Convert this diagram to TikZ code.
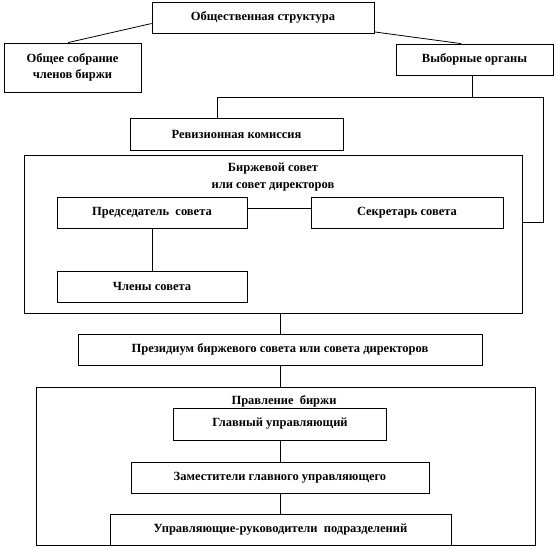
\documentclass[tikz,border=0pt]{standalone}
\usepackage{fontspec}
\setmainfont{Liberation Serif}
\begin{document}
\begin{tikzpicture}[x=1pt,y=-1pt,
  txt/.style={font=\bfseries\fontsize{12.5}{16.5}\selectfont},
  box/.style={draw, line width=0.8pt, inner sep=0pt, align=center, txt},
  frame/.style={draw, line width=0.8pt, inner sep=0pt},
  lab/.style={inner sep=0pt, align=center, txt},
  conn/.style={line width=0.8pt}]
\useasboundingbox (0,0) rectangle (557,549);
% containers
\node[frame, minimum width=498pt, minimum height=158pt] (council) at (273,234) {};
\node[frame, minimum width=499pt, minimum height=158pt] (board) at (285.5,466) {};
\node[lab] (counciltitle) at (273,177) {Биржевой совет\\или совет директоров};
\node[lab] (boardtitle) at (284,401) {Правление~ биржи};
% boxes
\node[box, minimum width=222pt, minimum height=31pt] (top) at (263,17.5) {Общественная структура};
\node[box, minimum width=137pt, minimum height=49pt] (general) at (72.5,67.5) {Общее собрание\\членов биржи};
\node[box, minimum width=157pt, minimum height=31pt] (elected) at (474.5,59.5) {Выборные органы};
\node[box, minimum width=213pt, minimum height=32pt] (audit) at (236.5,134) {Ревизионная комиссия};
\node[box, minimum width=190pt, minimum height=31pt] (chair) at (152,212.5) {Председатель~ совета};
\node[box, minimum width=192pt, minimum height=31pt] (secr) at (407,212.5) {Секретарь совета};
\node[box, minimum width=190pt, minimum height=31pt] (members) at (152,286.5) {Члены совета};
\node[box, minimum width=404pt, minimum height=31pt] (presid) at (280,349.5) {Президиум биржевого совета или совета директоров};
\node[box, minimum width=213pt, minimum height=32pt] (main) at (280,424) {Главный управляющий};
\node[box, minimum width=298pt, minimum height=31pt] (deputy) at (280,477.5) {Заместители главного управляющего};
\node[box, minimum width=341pt, minimum height=31pt] (heads) at (280.5,529.5) {Управляющие-руководители~ подразделений};
% connectors
\coordinate (jl) at (217,97);
\coordinate (jr) at (543,97);
\draw[conn] ([yshift=-6pt]top.west) -- ([xshift=-4.5pt]general.north);
\draw[conn] ([yshift=1.5pt]top.south east) -- ([xshift=-13.5pt]elected.north);
\draw[conn] ([xshift=-2pt]elected.south) -- ([xshift=-2pt]elected.south |- jl);
\draw[conn] (jl) -- (jr);
\draw[conn] (jl) -- (jl |- audit.north);
\draw[conn] (jr) |- ([yshift=12pt]council.east);
\draw[conn] ([yshift=4pt]chair.east) -- ([yshift=4pt]secr.west);
\draw[conn] (chair.south) -- (members.north);
\draw[conn] (presid.north |- council.south) -- (presid.north);
\draw[conn] (presid.south) -- (presid.south |- board.north);
\draw[conn] (main.south) -- (deputy.north);
\draw[conn] (deputy.south) -- (deputy.south |- heads.north);
\end{tikzpicture}
\end{document}
